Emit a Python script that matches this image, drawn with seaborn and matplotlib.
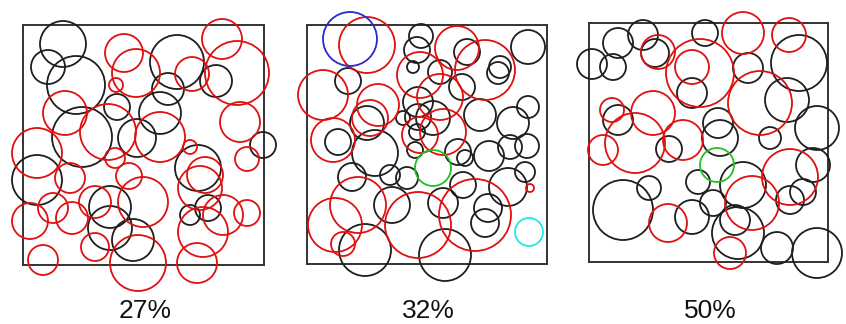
import matplotlib
matplotlib.use("Agg")
import matplotlib.pyplot as plt
from matplotlib.patches import Circle
import seaborn as sns
import pandas as pd

sns.set_theme(style="white")
plt.rcParams["font.family"] = ["Liberation Sans", "DejaVu Sans"]

# Circle layouts per panel: (x, y, radius) in box units (box is ~240 units wide, y grows downward)
panel_labels = ["27%", "32%", "50%"]

p1_black = [(40, 19, 23), (25, 42, 17), (53, 60, 29), (154, 37, 27), (193, 56, 16),
            (145, 64, 16), (94, 82, 13), (137, 88, 21), (59, 112, 30), (114, 113, 19),
            (14, 155, 25), (87, 182, 21), (87, 203, 22), (110, 215, 21), (240, 120, 13),
            (175, 143, 23), (167, 190, 10), (185, 183, 13)]
p1_red = [(101, 28, 19), (199, 14, 20), (214, 48, 32), (169, 49, 17), (113, 48, 24),
          (93, 60, 7), (42, 88, 22), (85, 107, 28), (14, 128, 25), (47, 153, 15),
          (92, 133, 10), (106, 151, 13), (72, 177, 16), (30, 183, 15), (7, 196, 18),
          (49, 193, 16), (72, 222, 14), (20, 235, 15), (115, 238, 28), (120, 177, 25),
          (217, 97, 20), (137, 112, 25), (167, 122, 7), (224, 134, 12), (182, 150, 18),
          (177, 163, 22), (200, 190, 20), (224, 188, 13), (180, 207, 25), (174, 238, 20)]

p2_black = [(41, 56, 13), (60, 98, 17), (31, 117, 13), (68, 128, 23), (114, 11, 12),
            (110, 25, 13), (106, 42, 6), (111, 77, 15), (96, 93, 7), (111, 92, 13),
            (110, 107, 8), (221, 22, 17), (160, 27, 13), (193, 42, 11), (191, 48, 11),
            (133, 47, 12), (155, 62, 13), (173, 90, 16), (221, 82, 11), (206, 98, 16),
            (220, 121, 12), (203, 122, 12), (126, 93, 17), (151, 127, 13), (182, 131, 15),
            (45, 152, 14), (83, 150, 10), (100, 153, 11), (108, 125, 8), (85, 180, 18),
            (58, 225, 26), (158, 133, 8), (218, 147, 10), (201, 162, 19), (156, 160, 13),
            (136, 178, 15), (181, 183, 14), (178, 198, 14), (138, 230, 26)]
p2_red = [(60, 20, 28), (16, 70, 25), (71, 80, 21), (63, 93, 18), (26, 115, 22),
          (113, 50, 23), (150, 23, 22), (178, 45, 30), (133, 72, 23), (136, 107, 23),
          (113, 110, 18), (51, 180, 28), (28, 200, 27), (36, 219, 12), (111, 200, 33),
          (168, 190, 36), (223, 163, 4)]
p2_blue = [(43, 14, 27)]
p2_green = [(126, 143, 18)]
p2_cyan = [(222, 207, 14)]

p3_black = [(3, 41, 15), (24, 44, 13), (29, 20, 15), (54, 12, 15), (66, 30, 14),
            (116, 10, 13), (103, 70, 15), (29, 97, 15), (80, 126, 13), (210, 40, 28),
            (159, 45, 15), (198, 77, 22), (129, 100, 15), (131, 115, 18), (181, 115, 11),
            (228, 105, 22), (34, 187, 30), (60, 165, 12), (103, 194, 17), (109, 159, 12),
            (154, 162, 23), (224, 142, 17), (214, 169, 13), (201, 177, 14), (146, 197, 15),
            (124, 180, 13), (149, 210, 26), (188, 225, 16), (228, 230, 25)]
p3_red = [(69, 29, 17), (111, 50, 34), (103, 44, 17), (23, 87, 12), (64, 90, 22),
          (46, 120, 30), (14, 127, 15), (94, 117, 20), (154, 10, 21), (200, 12, 17),
          (171, 80, 32), (79, 200, 19), (163, 180, 27), (201, 154, 28), (141, 230, 16)]
p3_green = [(128, 142, 17)]

palette = {"black": "#1e1e1e", "red": "#e01010", "blue": "#2a2ad0",
           "green": "#22c022", "cyan": "#22e6e6"}

panels = [
    {"black": p1_black, "red": p1_red},
    {"black": p2_black, "red": p2_red, "blue": p2_blue, "green": p2_green, "cyan": p2_cyan},
    {"black": p3_black, "red": p3_red, "green": p3_green},
]

rows = []
for i, groups in enumerate(panels):
    for color, circles in groups.items():
        for x, y, r in circles:
            rows.append({"panel": i, "kind": color, "x": x, "y": y, "r": r})
df = pd.DataFrame(rows)

W, H = 846, 324
fig = plt.figure(figsize=(W / 100, H / 100), dpi=100)

# box extents in pixels: left, top, width, height
boxes = [(23, 25, 241, 240), (307, 25, 240, 239), (589, 23, 239, 239)]

for i, (bl, bt, bw, bh) in enumerate(boxes):
    ax = fig.add_axes([bl / W, (H - bt - bh) / H, bw / W, bh / H])
    ax.set_xlim(0, bw)
    ax.set_ylim(bh, 0)
    ax.set_xticks([])
    ax.set_yticks([])
    ax.set_facecolor("none")
    for s in ax.spines.values():
        s.set_color("#333333")
        s.set_linewidth(1.4)
        s.set_zorder(1)
    sub = df[df["panel"] == i]
    for _, row in sub.iterrows():
        ax.add_patch(Circle((row["x"], row["y"]), row["r"], fill=False,
                            ec=palette[row["kind"]], lw=1.3, clip_on=False, zorder=2))
    fig.text((bl + bw / 2) / W + 0.002, 1 - 311 / H, panel_labels[i], ha="center", va="center",
             fontsize=19, color="#111111")

fig.savefig("out.png", dpi=100)
